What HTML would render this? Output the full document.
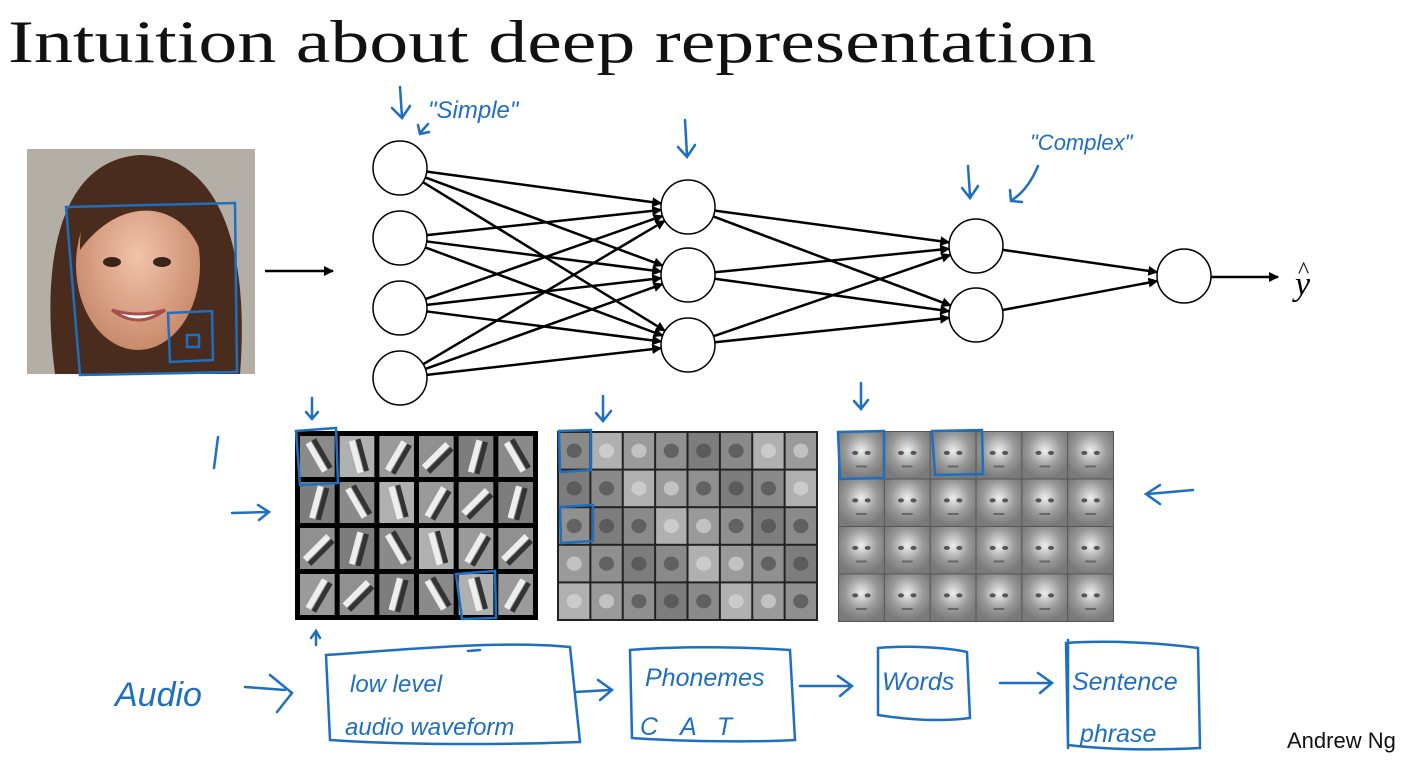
<!DOCTYPE html>
<html><head><meta charset="utf-8"><style>
html,body{margin:0;padding:0;background:#fff;}
svg{display:block}
.h{font-family:"Liberation Sans",sans-serif;fill:#1f6fc0;font-style:italic}
</style></head><body>
<svg id="s" width="1420" height="760" viewBox="0 0 1420 760" xmlns="http://www.w3.org/2000/svg">
<defs>
<marker id="a" markerWidth="10" markerHeight="10" refX="9" refY="5" orient="auto" markerUnits="userSpaceOnUse"><path d="M0,0 L10,5 L0,10 z" fill="#000"/></marker>
<radialGradient id="skin" cx="50%" cy="45%" r="55%"><stop offset="0" stop-color="#f1c3aa"/><stop offset="1" stop-color="#c98a6c"/></radialGradient>
<radialGradient id="fc" cx="50%" cy="40%" r="60%"><stop offset="0" stop-color="#eee"/><stop offset="0.6" stop-color="#999"/><stop offset="1" stop-color="#7a7a7a"/></radialGradient>
</defs>
<text x="8" y="62" font-family="Liberation Serif,serif" font-size="60" fill="#111" textLength="1088" lengthAdjust="spacingAndGlyphs">Intuition about deep representation</text>
<!-- face photo -->
<rect x="27" y="149" width="228" height="225" fill="#b3aea6"/>
<path d="M55,374 C40,260 60,160 140,155 C220,155 250,250 240,374 Z" fill="#4a2c1e"/>
<ellipse cx="138" cy="265" rx="62" ry="85" fill="url(#skin)"/>
<path d="M80,250 C80,180 120,170 160,180 C190,190 200,220 200,250 C180,200 120,195 80,250Z" fill="#4a2c1e"/>
<ellipse cx="112" cy="262" rx="9" ry="5" fill="#3a2418"/><ellipse cx="162" cy="262" rx="9" ry="5" fill="#3a2418"/>
<path d="M112,310 Q138,330 165,310 Q138,318 112,310Z" fill="#fff" stroke="#a5504a" stroke-width="3"/>
<g fill="none" stroke="#1f6fc0" stroke-width="2.5">
<path d="M66,207 L235,203 L237,372 L80,375 Z"/>
<path d="M168,313 L212,311 L213,360 L170,362 Z"/>
<rect x="187" y="335" width="12" height="12"/>
</g>
<line x1="265" y1="271" x2="333" y2="271" stroke="#000" stroke-width="2.5" marker-end="url(#a)"/>
<g id="net" stroke="#000" stroke-width="2.5"></g>
<g id="nodes" fill="#fff" stroke="#000" stroke-width="1.5"></g>
<line x1="1211" y1="277" x2="1278" y2="277" stroke="#000" stroke-width="2.5" marker-end="url(#a)"/>
<text x="1295" y="295" font-family="Liberation Serif,serif" font-style="italic" font-size="34">y</text>
<text x="1298" y="278" font-family="Liberation Serif,serif" font-size="24">^</text>
<!-- grids -->
<g id="grids"></g>
<!-- handwriting -->
<g fill="none" stroke="#1f6fc0" stroke-width="2.5" stroke-linecap="round">
<path d="M400,87 L402,117 M392,108 L402,118 L410,106"/>
<path d="M428,124 L420,133 M418,125 L420,134 L429,132"/>
<path d="M685,120 L687,155 M678,147 L687,157 L695,145"/>
<path d="M968,166 L970,196 M962,188 L970,198 L978,186"/>
<path d="M1038,166 C1030,185 1020,195 1012,200 M1010,190 L1011,201 L1022,202"/>
<path d="M312,398 L312,418 M306,412 L312,419 L318,412"/>
<path d="M603,396 L603,420 M596,413 L603,421 L611,411"/>
<path d="M861,383 L861,408 M854,401 L861,409 L868,400"/>
<path d="M218,437 L214,468"/>
<path d="M232,513 L268,512 M258,505 L269,512 L259,520"/>
<path d="M1193,490 L1148,494 M1160,485 L1146,494 L1160,504"/>
<path d="M316,645 L316,632 M311,638 L316,631 L320,638"/>
<path d="M296,431 L336,428 L338,483 L300,485 Z"/>
<path d="M559,431 L591,430 L591,470 L560,472 Z"/>
<path d="M560,507 L593,505 L593,541 L561,543 Z"/>
<path d="M456,574 L495,571 L496,618 L462,619 Z"/>
<path d="M838,432 L884,431 L884,478 L840,479 Z"/>
<path d="M932,431 L982,430 L983,474 L935,475 Z"/>
<path d="M245,687 L285,690 M270,675 L292,693 L277,712"/>
<path d="M326,655 C400,650 500,640 570,647 L580,742 C500,745 400,745 330,740 Z"/>
<path d="M468,651 L480,650"/>
<path d="M575,692 L610,690 M598,680 L612,690 L600,700"/>
<path d="M630,650 C690,645 760,648 790,650 L795,740 C760,742 690,742 632,738 Z"/>
<path d="M800,686 L850,686 M838,676 L852,686 L840,696"/>
<path d="M878,648 C910,645 950,648 967,652 L970,718 C940,722 910,720 878,715 Z"/>
<path d="M1000,683 L1050,683 M1038,673 L1052,683 L1040,693"/>
<path d="M1066,643 C1110,640 1160,643 1198,648 L1200,748 C1160,750 1110,750 1068,745 Z M1068,640 L1068,748"/>
</g>
<g class="h">
<text x="428" y="118" font-size="24">"Simple"</text>
<text x="1030" y="150" font-size="22">"Complex"</text>
<text x="115" y="706" font-size="34">Audio</text>
<text x="350" y="692" font-size="24">low level</text>
<text x="345" y="735" font-size="24">audio waveform</text>
<text x="645" y="686" font-size="25">Phonemes</text>
<text x="640" y="735" font-size="25" letter-spacing="22">CAT</text>
<text x="882" y="690" font-size="25">Words</text>
<text x="1072" y="690" font-size="25">Sentence</text>
<text x="1080" y="742" font-size="25">phrase</text>
</g>
<text x="1287" y="748" font-family="Liberation Sans,sans-serif" font-size="22" fill="#111">Andrew Ng</text>
</svg>
<script>
var NS="http://www.w3.org/2000/svg";
function el(p,t,a){var e=document.createElementNS(NS,t);for(var k in a)e.setAttribute(k,a[k]);p.appendChild(e);return e;}
var L=[[400,[168,238,308,378]],[688,[207,275,345]],[976,[246,315]],[1184,[276]]],r=27;
var net=document.getElementById('net'),nd=document.getElementById('nodes');
for(var i=0;i<3;i++){var A=L[i],B=L[i+1];A[1].forEach(function(y1){B[1].forEach(function(y2){
var dx=B[0]-A[0],dy=y2-y1,d=Math.sqrt(dx*dx+dy*dy);
el(net,'line',{x1:A[0]+r*dx/d,y1:y1+r*dy/d,x2:B[0]-r*dx/d,y2:y2-r*dy/d,'marker-end':'url(#a)'});});});}
L.forEach(function(l){l[1].forEach(function(y){el(nd,'circle',{cx:l[0],cy:y,r:r});});});
var g=document.getElementById('grids');
function grid(x,y,w,h,c,rw,bw,bg,type){el(g,'rect',{x:x,y:y,width:w,height:h,fill:bg});
var cw=(w-bw)/c,ch=(h-bw)/rw;for(var i=0;i<rw;i++)for(var j=0;j<c;j++){
var cx=x+bw+j*cw,cy=y+bw+i*ch,W=cw-bw,H=ch-bw,s=(i*7+j*3)%5;
el(g,'rect',{x:cx,y:cy,width:W,height:H,fill:type==2?'url(#fc)':['#8a8a8a','#9a9a9a','#7d7d7d','#b0b0b0','#909090'][s]});
if(type==0){var ang=[-30,30,15,-15,45][s];var gg=el(g,'g',{transform:'rotate('+ang+' '+(cx+W/2)+' '+(cy+H/2)+')'});
el(gg,'rect',{x:cx+W/2-4,y:cy+4,width:6,height:H-8,fill:'#eee'});el(gg,'rect',{x:cx+W/2+3,y:cy+4,width:5,height:H-8,fill:'#333'});}
if(type==1){el(g,'ellipse',{cx:cx+W/2,cy:cy+H/2,rx:W/4,ry:H/5,fill:s%2?'#ddd':'#444',opacity:0.6});}
if(type==2){el(g,'ellipse',{cx:cx+W*0.36,cy:cy+H*0.45,rx:3,ry:2,fill:'#555'});el(g,'ellipse',{cx:cx+W*0.64,cy:cy+H*0.45,rx:3,ry:2,fill:'#555'});el(g,'rect',{x:cx+W*0.38,y:cy+H*0.72,width:W*0.24,height:2,fill:'#666'});}
}}
grid(295,431,243,189,6,4,5,'#000',0);
grid(557,431,261,190,8,5,2,'#222',1);
grid(838,431,276,191,6,4,1,'#555',2);
</script>
</body></html>
